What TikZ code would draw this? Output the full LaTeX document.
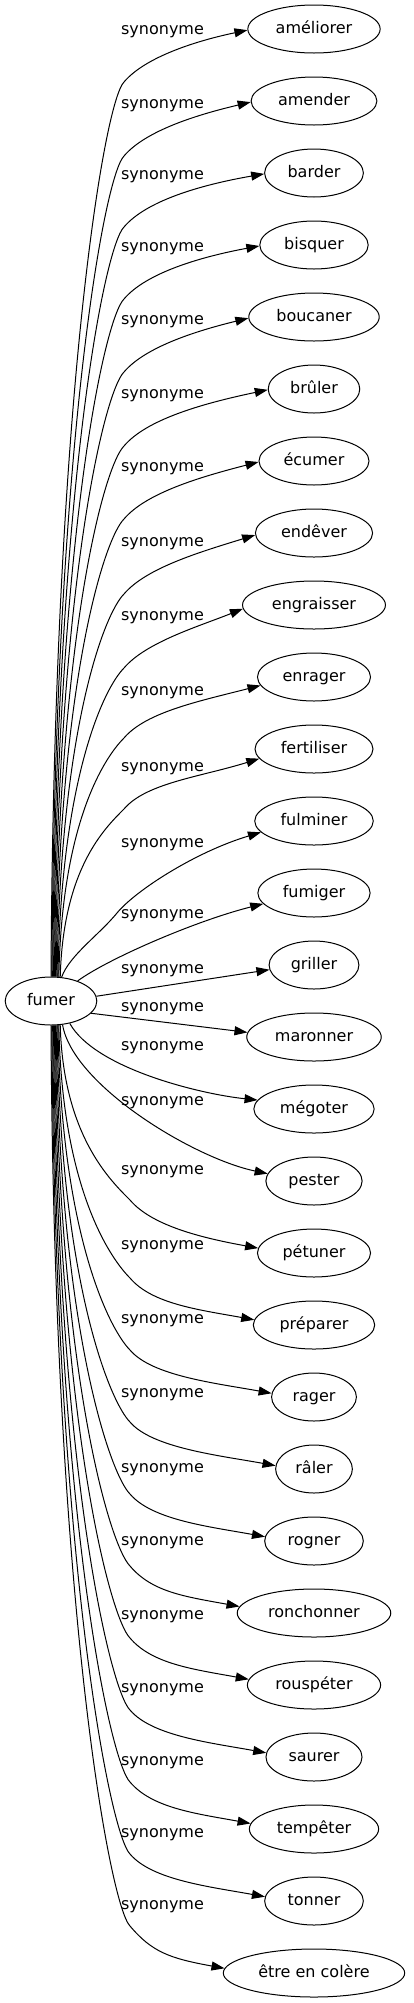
\documentclass[tikz,border=0pt]{standalone}
\usepackage{fontspec}
\setmainfont{DejaVu Sans}
\usetikzlibrary{shapes.geometric,arrows.meta}

\begin{document}
\begin{tikzpicture}[x=1pt,y=-1pt,
    word/.style={ellipse, draw=black, line width=1pt,
      font=\fontsize{16}{19}\selectfont,
      text height=11.5pt, text depth=2.9pt,
      inner xsep=8.5pt, inner ysep=3pt, minimum height=48pt},
    lbl/.style={font=\fontsize{16}{19}\selectfont, inner sep=0pt},
    syn/.style={draw=black, line width=1pt,
      -{Triangle[length=13pt,width=9pt]}}]
\useasboundingbox (0,0) rectangle (413,2003);

% source
\node[word] (fumer) at (51,1001) {fumer};

% words
\node[word] (ameliorer) at (314,29) {améliorer};
\node[word] (amender) at (314,101) {amender};
\node[word] (barder) at (314,173) {barder};
\node[word] (bisquer) at (314,245) {bisquer};
\node[word] (boucaner) at (314,317) {boucaner};
\node[word] (bruler) at (314,389) {brûler};
\node[word] (ecumer) at (314,461) {écumer};
\node[word] (endever) at (314,533) {endêver};
\node[word] (engraisser) at (314,605) {engraisser};
\node[word] (enrager) at (314,677) {enrager};
\node[word] (fertiliser) at (314,749) {fertiliser};
\node[word] (fulminer) at (314,821) {fulminer};
\node[word] (fumiger) at (314,893) {fumiger};
\node[word] (griller) at (314,965) {griller};
\node[word] (maronner) at (314,1037) {maronner};
\node[word] (megoter) at (314,1109) {mégoter};
\node[word] (pester) at (314,1181) {pester};
\node[word] (petuner) at (314,1253) {pétuner};
\node[word] (preparer) at (314,1325) {préparer};
\node[word] (rager) at (314,1397) {rager};
\node[word] (raler) at (314,1469) {râler};
\node[word] (rogner) at (314,1541) {rogner};
\node[word] (ronchonner) at (314,1613) {ronchonner};
\node[word] (rouspeter) at (314,1685) {rouspéter};
\node[word] (saurer) at (314,1757) {saurer};
\node[word] (tempeter) at (314,1829) {tempêter};
\node[word] (tonner) at (314,1901) {tonner};
\node[word] (etre) at (314,1973) {être en colère};

% labels
\node[lbl] (s0) at (162.5,32) {synonyme};
\node[lbl] (s1) at (162.5,106) {synonyme};
\node[lbl] (s2) at (162.5,177) {synonyme};
\node[lbl] (s3) at (162.5,249) {synonyme};
\node[lbl] (s4) at (162.5,322) {synonyme};
\node[lbl] (s5) at (162.5,396) {synonyme};
\node[lbl] (s6) at (162.5,469) {synonyme};
\node[lbl] (s7) at (162.5,544) {synonyme};
\node[lbl] (s8) at (162.5,618) {synonyme};
\node[lbl] (s9) at (162.5,693) {synonyme};
\node[lbl] (s10) at (162.5,769) {synonyme};
\node[lbl] (s11) at (162.5,845) {synonyme};
\node[lbl] (s12) at (162.5,916) {synonyme};
\node[lbl] (s13) at (162.5,971) {synonyme};
\node[lbl] (s14) at (162.5,1009) {synonyme};
\node[lbl] (s15) at (162.5,1048) {synonyme};
\node[lbl] (s16) at (162.5,1103) {synonyme};
\node[lbl] (s17) at (162.5,1172) {synonyme};
\node[lbl] (s18) at (162.5,1247) {synonyme};
\node[lbl] (s19) at (162.5,1321) {synonyme};
\node[lbl] (s20) at (162.5,1395) {synonyme};
\node[lbl] (s21) at (162.5,1470) {synonyme};
\node[lbl] (s22) at (162.5,1543) {synonyme};
\node[lbl] (s23) at (162.5,1617) {synonyme};
\node[lbl] (s24) at (162.5,1690) {synonyme};
\node[lbl] (s25) at (162.5,1763) {synonyme};
\node[lbl] (s26) at (162.5,1835) {synonyme};
\node[lbl] (s27) at (162.5,1907) {synonyme};

% upper edges
\draw[syn] (fumer.90) .. controls +(3,-577) and +(-20,20) .. (124,82) .. controls +(22,-26) and (200,40) .. (ameliorer.181);
\draw[syn] (fumer.88) .. controls +(3,-530) and +(-20,20) .. (124,156) .. controls +(22,-26) and (200,114) .. (amender.181);
\draw[syn] (fumer.86) .. controls +(3,-484) and +(-20,20) .. (124,227) .. controls +(22,-26) and (200,185) .. (barder.181);
\draw[syn] (fumer.84) .. controls +(3,-437) and +(-20,20) .. (124,299) .. controls +(22,-26) and (200,257) .. (bisquer.181);
\draw[syn] (fumer.82) .. controls +(3,-390) and +(-20,20) .. (124,372) .. controls +(22,-26) and (200,330) .. (boucaner.181);
\draw[syn] (fumer.80) .. controls +(3,-342) and +(-20,20) .. (124,446) .. controls +(22,-26) and (200,404) .. (bruler.181);
\draw[syn] (fumer.78) .. controls +(3,-295) and +(-20,20) .. (124,519) .. controls +(22,-26) and (200,477) .. (ecumer.181);
\draw[syn] (fumer.76) .. controls +(3,-247) and +(-20,20) .. (124,594) .. controls +(22,-26) and (200,552) .. (endever.182);
\draw[syn] (fumer.74) .. controls +(3,-199) and +(-20,20) .. (124,668) .. controls +(22,-26) and (200,626) .. (engraisser.183);
\draw[syn] (fumer.72) .. controls +(3,-154) and +(-20,20) .. (124,738) .. controls +(22,-26) and (200,701) .. (enrager.189);
\draw[syn] (fumer.69) .. controls +(3,-108) and +(-20,20) .. (124,809) .. controls +(22,-26) and (200,777) .. (fertiliser.190);
\draw[syn] (fumer.66) .. controls +(8,-22) and +(-18,22) .. (117,913) .. controls +(18,-22) and (195,852) .. (fulminer.192);
\draw[syn] (fumer.37) .. controls +(30,-22) and (195,921) .. (fumiger.192);
\draw[syn] (fumer.6) -- (griller.186);

% lower edges
\draw[syn] (fumer.-17) -- (maronner.176);
\draw[syn] (fumer.-50) .. controls +(25,45) and (200,1094) .. (megoter.171);
\draw[syn] (fumer.-64) .. controls +(10,60) and (193,1158) .. (pester.171);
\draw[syn] (fumer.-69) .. controls +(3,110) and +(-20,-20) .. (130,1200) .. controls +(22,26) and +(-55,-10) .. (petuner.175);
\draw[syn] (fumer.-72) .. controls +(3,163) and +(-20,-20) .. (130,1278) .. controls +(22,26) and +(-55,-10) .. (preparer.175);
\draw[syn] (fumer.-74) .. controls +(3,210) and +(-20,-20) .. (130,1350) .. controls +(22,26) and +(-55,-10) .. (rager.175);
\draw[syn] (fumer.-76) .. controls +(3,256) and +(-20,-20) .. (130,1422) .. controls +(22,26) and +(-55,-10) .. (raler.175);
\draw[syn] (fumer.-78) .. controls +(3,302) and +(-20,-20) .. (130,1494) .. controls +(22,26) and +(-55,-10) .. (rogner.175);
\draw[syn] (fumer.-80) .. controls +(3,349) and +(-20,-20) .. (130,1566) .. controls +(22,26) and +(-55,-10) .. (ronchonner.175);
\draw[syn] (fumer.-82) .. controls +(3,395) and +(-20,-20) .. (130,1638) .. controls +(22,26) and +(-55,-10) .. (rouspeter.175);
\draw[syn] (fumer.-84) .. controls +(3,442) and +(-20,-20) .. (130,1710) .. controls +(22,26) and +(-55,-10) .. (saurer.175);
\draw[syn] (fumer.-86) .. controls +(3,488) and +(-20,-20) .. (130,1782) .. controls +(22,26) and +(-55,-10) .. (tempeter.175);
\draw[syn] (fumer.-88) .. controls +(3,535) and +(-20,-20) .. (130,1854) .. controls +(22,26) and +(-55,-10) .. (tonner.175);
\draw[syn] (fumer.-90) .. controls +(3,581) and +(-20,-20) .. (130,1926) .. controls +(22,26) and +(-55,-10) .. (etre.177);

\end{tikzpicture}
\end{document}
